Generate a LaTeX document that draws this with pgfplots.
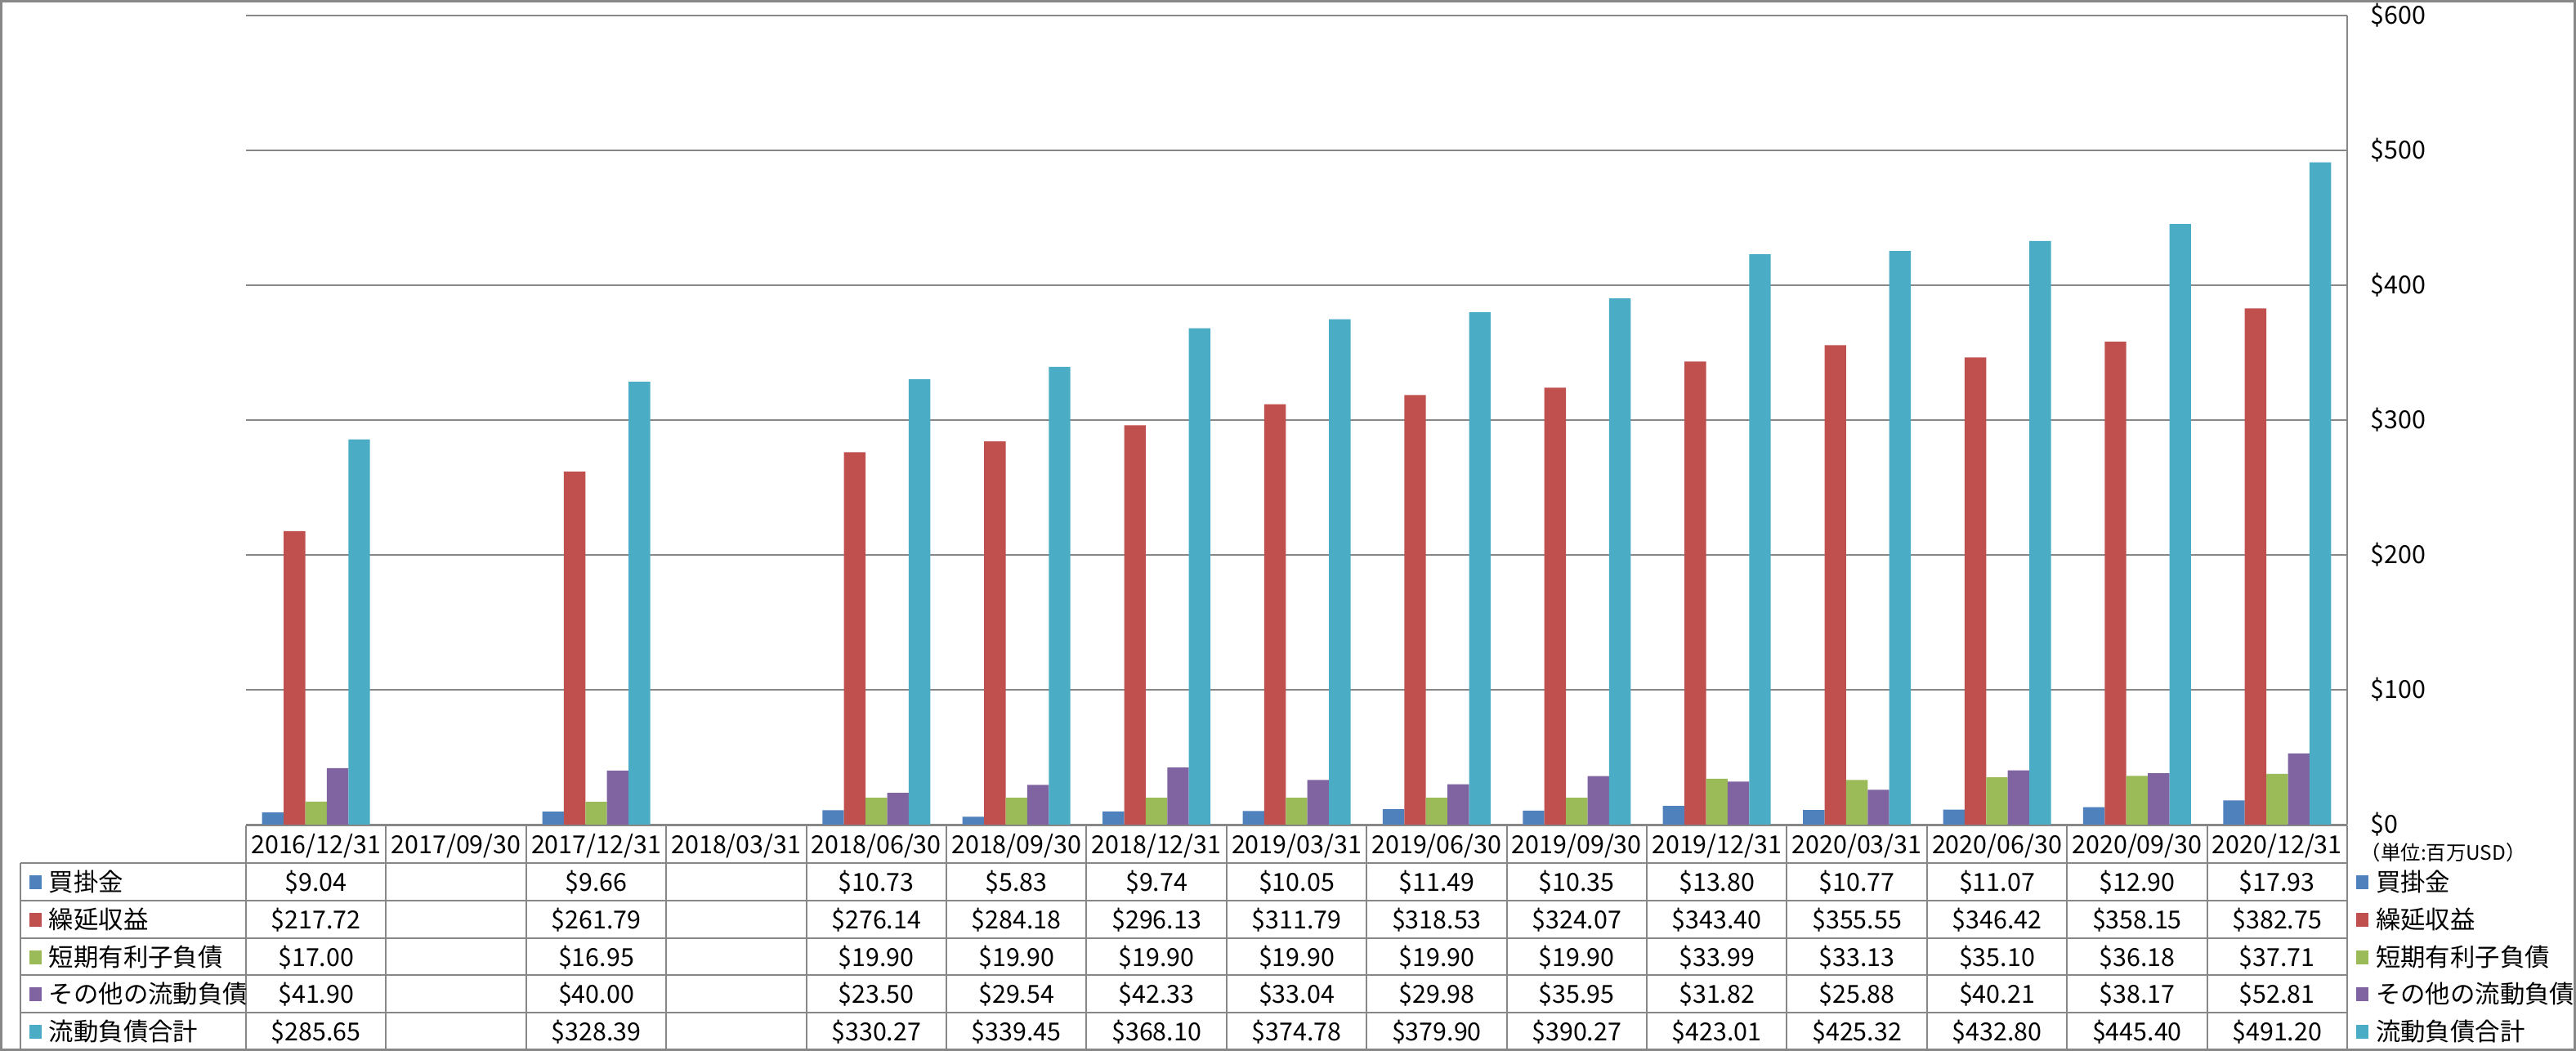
\documentclass[border=0pt]{standalone}
\usepackage{pgfplots}
\pgfplotsset{compat=1.18}
\usepackage{pgfplotstable}
\usepackage{fontspec}
\setmainfont{Noto Sans CJK JP}
\definecolor{c1}{HTML}{4F81BD}
\definecolor{c2}{HTML}{C0504D}
\definecolor{c3}{HTML}{9BBB59}
\definecolor{c4}{HTML}{8064A2}
\definecolor{c5}{HTML}{4BACC6}
\definecolor{gridgray}{HTML}{878787}

\pgfplotstableread{
x a b c d e
0 9.04 217.72 17.00 41.90 285.65
1 nan nan nan nan nan
2 9.66 261.79 16.95 40.00 328.39
3 nan nan nan nan nan
4 10.73 276.14 19.90 23.50 330.27
5 5.83 284.18 19.90 29.54 339.45
6 9.74 296.13 19.90 42.33 368.10
7 10.05 311.79 19.90 33.04 374.78
8 11.49 318.53 19.90 29.98 379.90
9 10.35 324.07 19.90 35.95 390.27
10 13.80 343.40 33.99 31.82 423.01
11 10.77 355.55 33.13 25.88 425.32
12 11.07 346.42 35.10 40.21 432.80
13 12.90 358.15 36.18 38.17 445.40
14 17.93 382.75 37.71 52.81 491.20
}\data

\newcommand{\sq}[1]{{\color{#1}\rule[0.7pt]{3.75pt}{4.25pt}}\hspace{2.3pt}}

\begin{document}
\begin{tikzpicture}[font=\fontsize{7.6}{9}\selectfont]
\useasboundingbox (0,0) rectangle (788pt,321.5pt);
\begin{axis}[
  at={(75.25pt,69.25pt)}, anchor=south west,
  scale only axis, width=642.75pt, height=247.5pt,
  xmin=-0.5, xmax=14.5, ymin=0, ymax=600,
  ybar=0pt, bar width=6.6pt,
  axis x line=none, axis y line*=right,
  axis line style={-, draw=gridgray, line width=0.5pt},
  xtick=\empty,
  ytick={0,100,200,300,400,500,600},
  yticklabels={\$0,\$100,\$200,\$300,\$400,\$500,\$600},
  yticklabel style={anchor=west, inner sep=0pt, xshift=7pt, font=\fontsize{7.6}{9}\selectfont},
  major tick length=0pt,
  ymajorgrids, grid style={draw=gridgray, line width=0.5pt},
]
\addplot[fill=c1, draw=none] table[x=x, y=a]{\data};
\addplot[fill=c2, draw=none] table[x=x, y=b]{\data};
\addplot[fill=c3, draw=none] table[x=x, y=c]{\data};
\addplot[fill=c4, draw=none] table[x=x, y=d]{\data};
\addplot[fill=c5, draw=none] table[x=x, y=e]{\data};
\end{axis}

\begin{scope}[x=0.25pt, y=-0.25pt, shift={(0pt,321.5pt)},
  tab/.style={draw=gridgray, line width=0.5pt},
  cell/.style={inner sep=0pt, text height=6.6pt, text depth=0.9pt}]
\draw[draw=gridgray, line width=0.75pt] (1.5,1.5) rectangle (3150.5,1284.5);
\foreach \yy in {1056,1102,1148,1193,1239} \draw[tab] (25,\yy) -- (2872,\yy);
\draw[tab] (301,1010) -- (2872,1010);
\draw[tab] (25,1056) -- (25,1284);
\foreach \k in {0,...,15} \draw[tab] ({301+171.4*\k},1010) -- ({301+171.4*\k},1284);
\foreach \lab [count=\k from 0] in {2016/12/31,2017/09/30,2017/12/31,2018/03/31,2018/06/30,2018/09/30,2018/12/31,2019/03/31,2019/06/30,2019/09/30,2019/12/31,2020/03/31,2020/06/30,2020/09/30,2020/12/31}
  \node[cell] at ({301+171.4*(\k+0.5)},1033) {\lab};
% row values
\foreach \v [count=\k from 0] in {\$9.04,,\$9.66,,\$10.73,\$5.83,\$9.74,\$10.05,\$11.49,\$10.35,\$13.80,\$10.77,\$11.07,\$12.90,\$17.93}
  \node[cell] at ({301+171.4*(\k+0.5)},1079) {\v};
\foreach \v [count=\k from 0] in {\$217.72,,\$261.79,,\$276.14,\$284.18,\$296.13,\$311.79,\$318.53,\$324.07,\$343.40,\$355.55,\$346.42,\$358.15,\$382.75}
  \node[cell] at ({301+171.4*(\k+0.5)},1125) {\v};
\foreach \v [count=\k from 0] in {\$17.00,,\$16.95,,\$19.90,\$19.90,\$19.90,\$19.90,\$19.90,\$19.90,\$33.99,\$33.13,\$35.10,\$36.18,\$37.71}
  \node[cell] at ({301+171.4*(\k+0.5)},1171) {\v};
\foreach \v [count=\k from 0] in {\$41.90,,\$40.00,,\$23.50,\$29.54,\$42.33,\$33.04,\$29.98,\$35.95,\$31.82,\$25.88,\$40.21,\$38.17,\$52.81}
  \node[cell] at ({301+171.4*(\k+0.5)},1216) {\v};
\foreach \v [count=\k from 0] in {\$285.65,,\$328.39,,\$330.27,\$339.45,\$368.10,\$374.78,\$379.90,\$390.27,\$423.01,\$425.32,\$432.80,\$445.40,\$491.20}
  \node[cell] at ({301+171.4*(\k+0.5)},1262) {\v};
% row labels (left) and legend (right)
\foreach \c/\t/\yy in {c1/買掛金/1079, c2/繰延収益/1125, c3/短期有利子負債/1171, c4/その他の流動負債/1216, c5/流動負債合計/1262} {
  \node[cell, anchor=west] at (35,\yy) {\sq{\c}\t};
  \node[cell, anchor=west] at (2882,\yy) {\sq{\c}\t};
}
\node[inner sep=0pt, anchor=west, font=\fontsize{6.1}{7}\selectfont] at (2888,1043) {（単位:百万USD）};
\end{scope}
\end{tikzpicture}
\end{document}
